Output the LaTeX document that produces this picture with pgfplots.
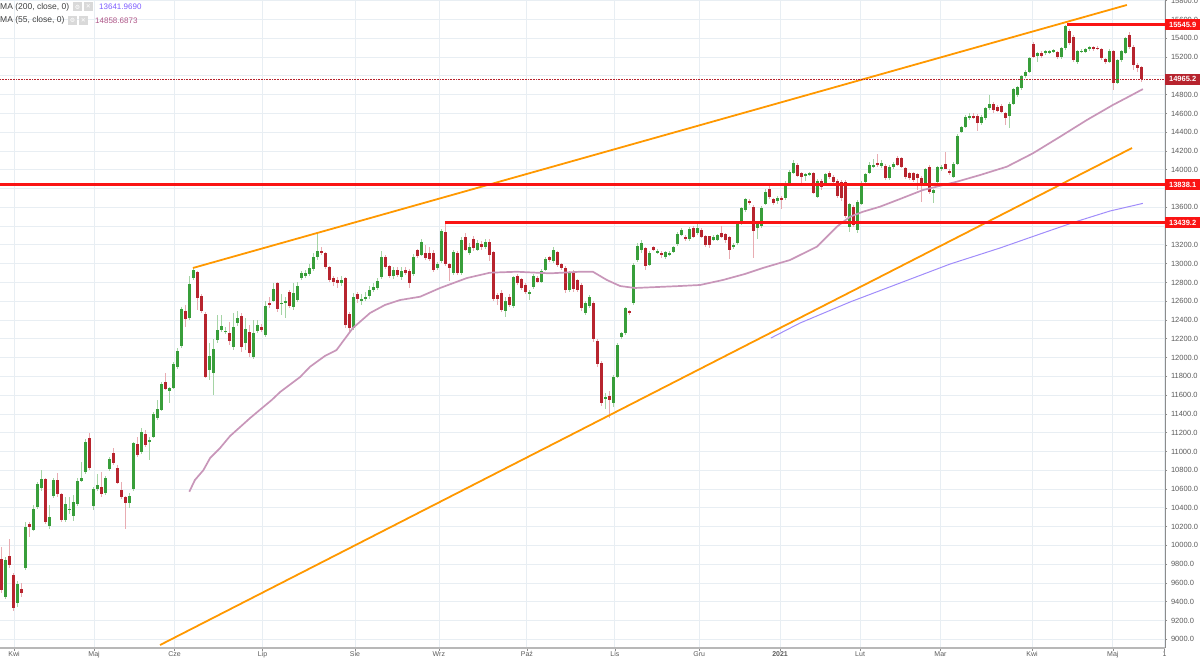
\documentclass[border=0pt]{standalone}
\usepackage{pgfplots}
\pgfplotsset{compat=1.18}
\usepackage{pgfplotstable}
\usepackage{fontspec}
\setmainfont{Liberation Sans}
\newfontfamily\symfont{DejaVu Sans}

\definecolor{upc}{RGB}{56,158,58}
\definecolor{dnc}{RGB}{183,36,46}
\definecolor{upw}{RGB}{165,212,165}
\definecolor{dnw}{RGB}{232,172,178}
\definecolor{ma55}{RGB}{200,150,185}
\definecolor{ma200}{RGB}{160,140,250}
\definecolor{orng}{RGB}{255,152,0}
\definecolor{hred}{RGB}{250,20,20}
\definecolor{gridc}{RGB}{232,238,243}
\definecolor{tickc}{RGB}{90,90,90}

% daily candles, x = trading day index
\pgfplotstableread{
i o h l c
0 9852 9986 9493 9524
1 9453 9880 9430 9844
2 9887 10068 9760 9794
3 9688 9710 9300 9333
4 9389 9620 9347 9588
5 9538 9602 9453 9496
6 9756 10252 9740 10192
7 10228 10252 10086 10192
8 10164 10430 10150 10384
9 10405 10678 10390 10653
10 10614 10803 10580 10710
11 10703 10720 10228 10252
12 10206 10430 10171 10305
13 10529 10720 10500 10696
14 10696 10767 10520 10544
15 10547 10560 10250 10270
16 10270 10520 10250 10440
17 10380 10520 10330 10390
18 10316 10536 10263 10465
19 10437 10720 10420 10689
20 10689 10891 10680 10717
21 10778 11130 10760 11100
22 11144 11200 10800 10824
23 10419 10620 10376 10597
24 10597 10760 10580 10643
25 10625 10780 10520 10544
26 10554 10740 10540 10717
27 10810 10940 10790 10917
28 10987 11037 10860 10874
29 10824 10860 10650 10667
30 10590 10680 10490 10512
31 10512 10530 10171 10448
32 10454 10560 10400 10526
33 10597 11100 10580 11087
34 11080 11157 10940 10962
35 10991 11247 10970 11204
36 11186 11230 11050 11069
37 11102 11150 10910 11123
38 11157 11420 11140 11399
39 11353 11550 11340 11449
40 11442 11740 11430 11719
41 11743 11832 11650 11665
42 11647 11690 11516 11673
43 11679 11950 11660 11932
44 11897 12100 11880 12073
45 12123 12540 12100 12514
46 12499 12560 12330 12411
47 12425 12869 12400 12780
48 12851 12951 12830 12933
49 12908 12920 12507 12631
50 12659 12680 12470 12499
51 12461 12480 11780 11797
52 11867 12150 11760 12017
53 11833 12200 11601 12088
54 12187 12453 12150 12294
55 12294 12453 12270 12336
56 12272 12330 12250 12286
57 12265 12380 12130 12180
58 12109 12471 12080 12329
59 12365 12500 12340 12418
60 12443 12480 12060 12109
61 12152 12420 12080 12301
62 12276 12350 12010 12045
63 12003 12400 11980 12265
64 12286 12400 12260 12344
65 12322 12360 12270 12294
66 12240 12600 12220 12549
67 12585 12650 12530 12560
68 12606 12797 12590 12727
69 12791 12810 12490 12514
70 12571 12680 12450 12585
71 12580 12640 12420 12600
72 12695 12720 12530 12549
73 12536 12790 12510 12691
74 12613 12800 12590 12762
75 12844 12920 12830 12897
76 12868 12930 12850 12897
77 12890 13000 12870 12951
78 12940 13110 12920 13074
79 13070 13320 13040 13130
80 13138 13180 13090 13117
81 13110 13120 12940 12968
82 12968 12980 12800 12826
83 12850 12870 12760 12800
84 12830 12860 12740 12790
85 12790 12870 12760 12830
86 12844 12860 12320 12347
87 12464 12480 12260 12311
88 12311 12690 12290 12648
89 12677 12700 12580 12620
90 12610 12680 12560 12625
91 12625 12700 12600 12650
92 12660 12760 12620 12720
93 12720 12790 12700 12750
94 12740 12850 12720 12820
95 12860 13130 12840 13074
96 13074 13090 12940 12968
97 12975 12990 12850 12868
98 12870 12960 12840 12930
99 12930 12960 12860 12880
100 12855 12960 12830 12925
101 12930 12960 12880 12900
102 12922 12940 12740 12791
103 12890 13100 12870 13074
104 13145 13160 13060 13082
105 13092 13260 13080 13234
106 13117 13200 13040 13057
107 13110 13180 13030 13047
108 13117 13150 12910 12932
109 12950 13020 12930 12996
110 13032 13370 13010 13351
111 13340 13447 12980 12996
112 12996 13010 12820 12950
113 12897 13150 12880 13127
114 13110 13130 12880 12897
115 12897 13280 12880 13252
116 13287 13330 13130 13145
117 13110 13220 13090 13180
118 13260 13300 13140 13163
119 13145 13250 13130 13223
120 13210 13240 13150 13175
121 13180 13260 13160 13234
122 13228 13260 13030 13092
123 13127 13140 12600 12620
124 12666 12690 12560 12620
125 12684 12720 12480 12507
126 12500 12650 12430 12606
127 12648 12680 12540 12560
128 12549 12870 12530 12855
129 12869 12890 12770 12791
130 12834 12850 12720 12738
131 12773 12790 12680 12702
132 12684 12720 12610 12698
133 12748 12890 12730 12869
134 12844 12870 12790 12808
135 12808 12940 12790 12925
136 12932 13070 12920 13047
137 13068 13080 13020 13039
138 13032 13180 13010 13145
139 13127 13140 12960 12986
140 12996 13010 12930 12950
141 12950 12970 12690 12720
142 12720 12920 12700 12897
143 12904 12930 12700 12727
144 12826 12840 12700 12720
145 12773 12790 12500 12525
146 12472 12600 12450 12578
147 12549 12670 12530 12648
148 12584 12600 12170 12194
149 12180 12200 11900 11932
150 11939 11960 11480 11513
151 11556 11620 11450 11584
152 11590 11640 11360 11548
153 11520 11810 11470 11796
154 11796 12150 11780 12134
155 12216 12270 12200 12258
156 12258 12540 12240 12525
157 12496 12510 12450 12471
158 12578 13010 12560 12986
159 13039 13220 13020 13188
160 13146 13250 13110 13220
161 13167 13180 12930 12975
162 12986 13130 12970 13110
163 13174 13190 13130 13145
164 13120 13160 13100 13135
165 13110 13130 13060 13092
166 13074 13140 13050 13127
167 13100 13130 13080 13114
168 13127 13190 13110 13174
169 13209 13340 13190 13316
170 13305 13380 13290 13358
171 13287 13300 13240 13260
172 13260 13390 13240 13366
173 13376 13400 13270 13287
174 13330 13420 13310 13376
175 13358 13380 13270 13287
176 13295 13310 13180 13199
177 13290 13300 13170 13199
178 13252 13300 13240 13287
179 13252 13320 13240 13305
180 13323 13400 13270 13287
181 13316 13330 13220 13252
182 13280 13300 13050 13145
183 13177 13220 13160 13199
184 13217 13450 13200 13430
185 13430 13600 13410 13590
186 13572 13700 13550 13685
187 13670 13690 13630 13643
188 13607 13620 13060 13351
189 13376 13450 13260 13430
190 13401 13610 13380 13590
191 13636 13790 13620 13767
192 13792 13830 13690 13707
193 13685 13700 13620 13649
194 13670 13720 13640 13696
195 13696 13720 13580 13678
196 13696 13880 13680 13848
197 13856 14000 13840 13980
198 13969 14100 13950 14075
199 14051 14070 13920 13934
200 13962 13980 13860 13920
201 13934 13970 13880 13955
202 13948 13980 13930 13962
203 13962 13980 13740 13756
204 13714 13900 13700 13884
205 13884 13900 13780 13820
206 13863 13970 13840 13955
207 13962 13990 13900 13920
208 13926 13940 13850 13873
209 13884 13900 13700 13721
210 13873 13890 13670 13696
211 13873 13890 13490 13508
212 13394 13650 13340 13636
213 13607 13630 13390 13412
214 13358 13680 13330 13660
215 13636 13880 13620 13863
216 13873 13970 13860 13955
217 13962 14080 13950 14051
218 14033 14110 14020 14051
219 14075 14170 14030 14051
220 14040 14100 14020 14068
221 14040 14060 13890 13909
222 13909 14050 13890 14033
223 14033 14080 14010 14061
224 14122 14150 14040 14051
225 14122 14140 14020 14033
226 14016 14030 13900 13926
227 13962 13980 13890 13909
228 13962 13980 13870 13891
229 13955 13970 13780 13909
230 13909 13930 13660 13856
231 13856 14020 13840 14005
232 14033 14050 13740 13767
233 13756 13800 13646 13785
234 13873 14040 13860 14026
235 14010 14050 13990 14033
236 14061 14193 14040 14005
237 13990 14010 13940 13962
238 13926 14080 13910 14061
239 14061 14380 14050 14360
240 14405 14470 14390 14452
241 14452 14580 14440 14559
242 14550 14600 14530 14570
243 14573 14600 14540 14559
244 14573 14590 14416 14495
245 14495 14580 14480 14559
246 14548 14670 14530 14655
247 14655 14796 14640 14700
248 14700 14720 14600 14636
249 14665 14690 14610 14629
250 14679 14700 14600 14619
251 14608 14620 14480 14548
252 14573 14720 14442 14700
253 14700 14870 14690 14857
254 14796 14890 14780 14878
255 14868 15010 14850 14999
256 14999 15060 14980 15044
257 15044 15200 15030 15187
258 15339 15360 15190 15204
259 15212 15250 15150 15241
260 15241 15260 15190 15212
261 15240 15280 15220 15268
262 15250 15280 15230 15268
263 15255 15290 15240 15275
264 15257 15270 15180 15198
265 15198 15310 15180 15294
266 15294 15546 15280 15531
267 15481 15500 15330 15347
268 15417 15430 15150 15169
269 15151 15280 15130 15268
270 15255 15290 15240 15268
271 15257 15300 15240 15283
272 15283 15320 15270 15304
273 15304 15320 15270 15283
274 15300 15320 15280 15290
275 15283 15300 15170 15187
276 15177 15190 15130 15151
277 15151 15290 15140 15268
278 15268 15280 14850 14921
279 14927 15180 14910 15169
280 15169 15280 15150 15268
281 15247 15410 15230 15400
282 15435 15470 15290 15304
283 15311 15330 15060 15116
284 15116 15140 15040 15081
285 15091 15110 14940 14965
}\ohlc

\pgfplotstableread{
i v
47.0 10571
48.4 10696
50.5 10800
52.2 10930
54.7 11037
57.2 11165
59.7 11260
62.2 11356
65.2 11463
67.6 11548
69.7 11633
74.7 11793
77.2 11903
80.9 12017
83.8 12080
87.9 12315
92.2 12475
95.9 12560
99.7 12613
104.7 12648
109.7 12741
116.4 12847
122.2 12904
128.9 12914
137.2 12897
144.7 12914
147.9 12914
151.4 12826
154.7 12762
158.4 12741
162.2 12748
169.7 12762
174.7 12773
180.4 12826
185.9 12890
190.4 12954
197.2 13039
203.9 13181
208.9 13394
212.2 13500
215.4 13553
219.7 13607
224.7 13689
230.4 13784
238.9 13873
244.7 13944
251.4 14033
257.9 14175
264.7 14352
271.4 14530
277.9 14690
282.2 14786
285.4 14859
}\maA

\pgfplotstableread{
i v
192.4 12208
199.7 12368
212.2 12592
224.7 12794
237.2 12996
249.7 13167
259.7 13316
268.4 13444
277.2 13561
285.4 13642
}\maB

\begin{document}
\begin{tikzpicture}
\useasboundingbox (0,0) rectangle (1200pt,659pt);
\begin{axis}[
  at={(0pt,11pt)}, anchor=south west,
  scale only axis, width=1165pt, height=648pt,
  xmin=-0.33, xmax=290.93, ymin=8907, ymax=15808,
  clip mode=individual,
  axis x line*=bottom, axis y line*=right,
  x axis line style={draw=black!28, line width=2pt},
  y axis line style={draw=black!45, line width=0.8pt},
  tick align=outside, major tick length=2.5pt,
  tick style={draw=black!45, line width=0.6pt},
  grid=major, major grid style={draw=gridc, line width=0.8pt},
  xtick={3.2,23.2,43.3,65.3,88.4,109.4,131.4,153.4,174.5,194.7,214.7,234.8,257.7,277.9,290.8},
  xticklabels={Kwi,Maj,Cze,Lip,Sie,Wrz,Paź,Lis,Gru,\textbf{2021},Lut,Mar,Kwi,Maj,1},
  ytick={9000,9200,...,13200,13600,14000,14200,14400,14600,14800,15200,15400,15600,15800},
  extra y ticks={13400,13800,15000},
  extra y tick labels={},
  extra y tick style={grid=major},
  scaled y ticks=false,
  xticklabel style={font=\fontsize{7}{8}\selectfont, text=tickc, inner sep=1pt},
  yticklabel style={font=\fontsize{7.5}{9}\selectfont, text=tickc,
    /pgf/number format/fixed, /pgf/number format/fixed zerofill,
    /pgf/number format/precision=1, /pgf/number format/1000 sep={},
    /pgf/number format/assume math mode=true},
]
% wicks
\addplot[draw=none, mark=none, error bars/.cd, y dir=both, y explicit, error mark=none,
  error bar style={draw=upw, line width=1pt, solid}]
  table[x=i, y expr={\thisrow{c}>=\thisrow{o} ? (\thisrow{h}+\thisrow{l})/2 : nan},
    y error expr={(\thisrow{h}-\thisrow{l})/2}] {\ohlc};
\addplot[draw=none, mark=none, error bars/.cd, y dir=both, y explicit, error mark=none,
  error bar style={draw=dnw, line width=1pt, solid}]
  table[x=i, y expr={\thisrow{c}<\thisrow{o} ? (\thisrow{h}+\thisrow{l})/2 : nan},
    y error expr={(\thisrow{h}-\thisrow{l})/2}] {\ohlc};
% bodies
\addplot[draw=none, mark=none, error bars/.cd, y dir=both, y explicit, error mark=none,
  error bar style={draw=upc, line width=3pt, solid}]
  table[x=i, y expr={\thisrow{c}>=\thisrow{o} ? (\thisrow{o}+\thisrow{c})/2 : nan},
    y error expr={max(abs(\thisrow{c}-\thisrow{o})/2,7)}] {\ohlc};
\addplot[draw=none, mark=none, error bars/.cd, y dir=both, y explicit, error mark=none,
  error bar style={draw=dnc, line width=3pt, solid}]
  table[x=i, y expr={\thisrow{c}<\thisrow{o} ? (\thisrow{o}+\thisrow{c})/2 : nan},
    y error expr={max(abs(\thisrow{c}-\thisrow{o})/2,7)}] {\ohlc};
% moving averages
\addplot[ma200, line width=1pt, mark=none] table[x=i, y=v] {\maB};
\addplot[ma55, line width=1.7pt, mark=none] table[x=i, y=v] {\maA};
% trend lines
\addplot[orng, line width=1.8pt, mark=none] coordinates {(47.9,12954) (281.4,15755)};
\addplot[orng, line width=1.8pt, mark=none] coordinates {(39.7,8939) (282.7,14232)};
% levels
\addplot[hred, line width=3pt, mark=none] coordinates {(-0.33,13838.1) (290.93,13838.1)};
\addplot[hred, line width=3pt, mark=none] coordinates {(110.9,13439.2) (290.93,13439.2)};
\addplot[hred, line width=3pt, mark=none] coordinates {(266.4,15545.9) (290.93,15545.9)};
\addplot[dnc, line width=0.6pt, densely dotted, mark=none] coordinates {(-0.33,14965.2) (290.93,14965.2)};

% price labels on the right scale
\tikzset{plab/.style={anchor=west, text=white, inner sep=0pt, minimum width=35pt,
  minimum height=11pt, font=\fontsize{7.5}{9}\selectfont\bfseries}}
\node[plab, fill=hred] at (axis cs:290.93,15545.9) {15545.9};
\node[plab, fill=dnc] at (axis cs:290.93,14965.2) {14965.2};
\node[plab, fill=hred] at (axis cs:290.93,13838.1) {13838.1};
\node[plab, fill=hred] at (axis cs:290.93,13439.2) {13439.2};

% indicator legend
\node[anchor=west, inner sep=0pt, text=black!75, font=\fontsize{8.5}{10}\selectfont, yshift=-7pt] at (rel axis cs:0,1) {MA (200, close, 0)};
\node[anchor=west, inner sep=0pt, text=black!75, font=\fontsize{8.5}{10}\selectfont, yshift=-20.5pt] at (rel axis cs:0,1) {MA (55, close, 0)};
\fill[black!15] ([xshift=73pt,yshift=-11.5pt]rel axis cs:0,1) rectangle ++(9pt,9pt);
\fill[black!15] ([xshift=84pt,yshift=-11.5pt]rel axis cs:0,1) rectangle ++(9pt,9pt);
\fill[black!15] ([xshift=68pt,yshift=-25pt]rel axis cs:0,1) rectangle ++(9pt,9pt);
\fill[black!15] ([xshift=79pt,yshift=-25pt]rel axis cs:0,1) rectangle ++(9pt,9pt);
\node[text=white, inner sep=0pt, font=\symfont\fontsize{6}{6}\selectfont] at ([xshift=77.5pt,yshift=-7pt]rel axis cs:0,1) {⚙};
\node[text=white, inner sep=0pt, font=\symfont\fontsize{6}{6}\selectfont] at ([xshift=88.5pt,yshift=-7pt]rel axis cs:0,1) {✕};
\node[text=white, inner sep=0pt, font=\symfont\fontsize{6}{6}\selectfont] at ([xshift=72.5pt,yshift=-20.5pt]rel axis cs:0,1) {⚙};
\node[text=white, inner sep=0pt, font=\symfont\fontsize{6}{6}\selectfont] at ([xshift=83.5pt,yshift=-20.5pt]rel axis cs:0,1) {✕};
\node[anchor=west, inner sep=0pt, text={rgb,255:red,124;green,92;blue,255}, font=\fontsize{8}{10}\selectfont, yshift=-7pt] at ([xshift=99pt]rel axis cs:0,1) {13641.9690};
\node[anchor=west, inner sep=0pt, text={rgb,255:red,175;green,85;blue,135}, font=\fontsize{8}{10}\selectfont, yshift=-20.5pt] at ([xshift=95pt]rel axis cs:0,1) {14858.6873};
\end{axis}
\end{tikzpicture}
\end{document}
